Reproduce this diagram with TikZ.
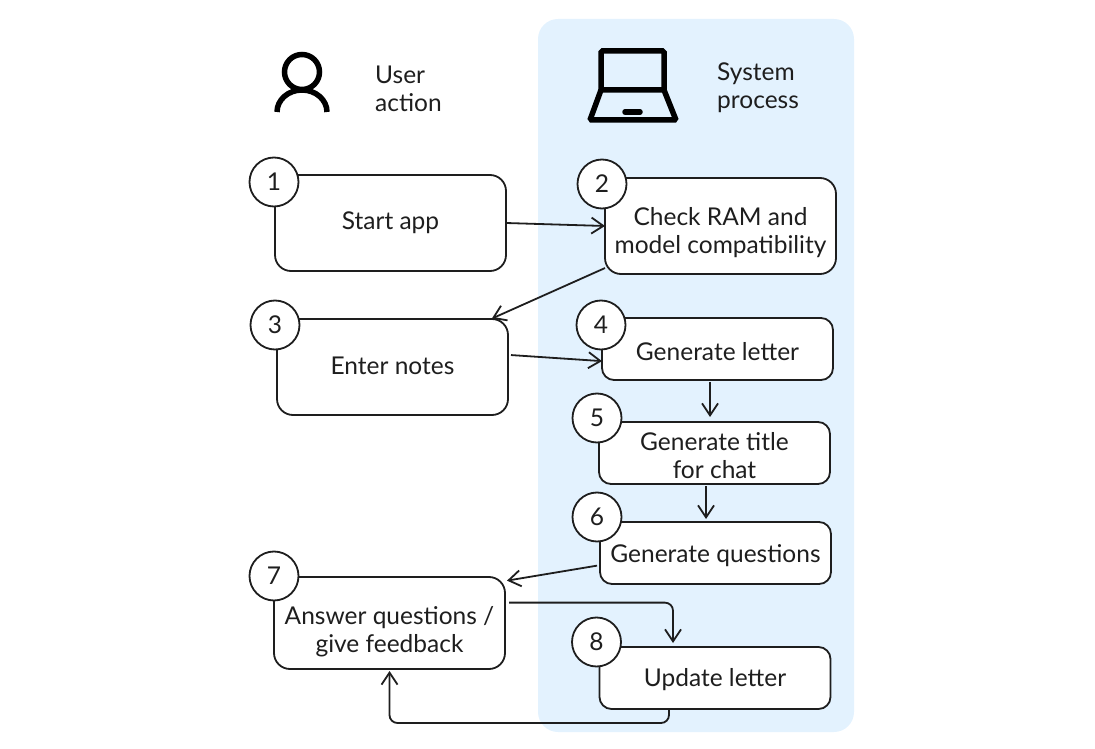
\documentclass[tikz,border=0pt]{standalone}
\usepackage{fontspec}
\setmainfont{Lato}
\usetikzlibrary{positioning, arrows.meta}
\definecolor{panelblue}{HTML}{E3F2FE}
\definecolor{inkblack}{HTML}{1E1E1E}

\begin{document}
\begin{tikzpicture}[node distance=20pt, >={Straight Barb[length=12pt,width=16pt]}]
	\tikzstyle{obj} = [draw=inkblack, fill=white, line width=1.8pt, rounded corners=16pt, align=center, inner sep=0pt, outer sep=0pt, minimum width=231pt, minimum height=96pt, font=\fontsize{24.5}{28}\selectfont, text=inkblack]
	\tikzstyle{objlow} = [obj, rounded corners=12pt, minimum height=62pt]
	\tikzstyle{numcirc} = [circle, draw=inkblack, fill=white, line width=1.8pt, minimum size=49pt, inner sep=0pt, outer sep=0pt, font=\fontsize{24.5}{24}\selectfont, text=inkblack]
	\tikzstyle{head} = [align=left, inner sep=0pt, font=\fontsize{24.5}{28}\selectfont, text=inkblack]
	\tikzstyle{icon} = [draw=black, line width=5.5pt]
	\tikzstyle{conn} = [->, draw=inkblack, line width=1.8pt, rounded corners=8pt]
	
	\useasboundingbox (0,0) rectangle (1095pt,748pt);
	\node[fill=panelblue, rounded corners=20pt, minimum width=316pt, minimum height=713pt] (panel) at (696pt,372.5pt) {};
	
	% header icons
	\draw[icon] (302pt,676pt) circle (17.5pt);
	\draw[icon] (277pt,636pt) arc[start angle=180, end angle=0, x radius=25pt, y radius=22pt];
	\draw[icon, rounded corners=1.5pt] (601pt,658pt) |- (664pt,697pt) -- (664pt,658pt) -- cycle;
	\draw[icon, rounded corners=1.5pt] (601pt,658pt) -- (590pt,628pt) -- (676pt,628pt) -- (664pt,658pt);
	\draw[icon, line cap=round] (625pt,636pt) -- (640pt,636pt);
	\node[head, anchor=west] (useraction) at (375pt,659pt) {User\\action};
	\node[head, anchor=west] (sysprocess) at (717pt,660pt) {System\\process};
	
	% boxes
	\node[obj] (box1) at (390.5pt,525pt) {Start app};
	\node[obj, right=99pt of box1, yshift=-3pt, text height=60pt, text depth=4pt] (box2) {Check RAM and\\model compatibility};
	\node[obj, below=48pt of box1, xshift=2pt, text height=18pt, text depth=2pt] (box3) {Enter notes};
	\node[objlow, right=94pt of box3, yshift=18pt, text height=26pt, text depth=2pt] (box4) {Generate letter};
	\node[objlow, below=42pt of box4, xshift=-3pt, text height=53pt, text depth=3pt] (box5) {Generate title\\for chat};
	\node[objlow, below=38pt of box5, xshift=1pt, text height=22pt, text depth=3pt] (box6) {Generate questions};
	\node[obj, below=162pt of box3, xshift=-3pt, minimum height=92pt, text height=61pt, text depth=3pt] (box7) {Answer questions /\\give feedback};
	\node[objlow, below=63pt of box6, xshift=-0.5pt, text height=21pt, text depth=4pt] (box8) {Update letter};
	
	% numbers
	\node[numcirc] (num1) at ([xshift=-1pt,yshift=-7pt]box1.north west) {1};
	\node[numcirc] (num2) at ([xshift=-3pt,yshift=-6pt]box2.north west) {2};
	\node[numcirc] (num3) at ([xshift=-2pt,yshift=-6pt]box3.north west) {3};
	\node[numcirc] (num4) at ([xshift=-1pt,yshift=-7pt]box4.north west) {4};
	\node[numcirc] (num5) at ([xshift=-2pt,yshift=4pt]box5.north west) {5};
	\node[numcirc] (num6) at ([xshift=-3pt,yshift=5pt]box6.north west) {6};
	\node[numcirc] (num7) at ([yshift=1pt]box7.north west) {7};
	\node[numcirc] (num8) at ([xshift=-3pt,yshift=5pt]box8.north west) {8};
	
	\coordinate[below=54pt of box7.south] (back);
	
	\draw[conn] (box1.east) -- (box2.west);
	\draw[conn, shorten >=1pt] (box2.200) -- (box3.26.4);
	\draw[conn, shorten <=3pt] (box3.6) -- (box4.186);
	\draw[conn, shorten <=2pt, shorten >=5pt] ([xshift=-7.5pt]box4.south) -- ([xshift=-4.5pt]box5.north);
	\draw[conn, shorten <=2pt, shorten >=3pt] ([xshift=-8.5pt]box5.south) -- ([xshift=-9.5pt]box6.north);
	\draw[conn, shorten <=3pt, shorten >=2pt] (box6.186.9) -- (box7.20.5);
	\draw[conn, shorten <=4pt, shorten >=4pt] (box7.10.3) -| ([xshift=-42pt]box8.north);
	\draw[conn, shorten >=2pt] ([xshift=-46pt]box8.south) |- (back) -- (box7.south);
\end{tikzpicture}
\end{document}
